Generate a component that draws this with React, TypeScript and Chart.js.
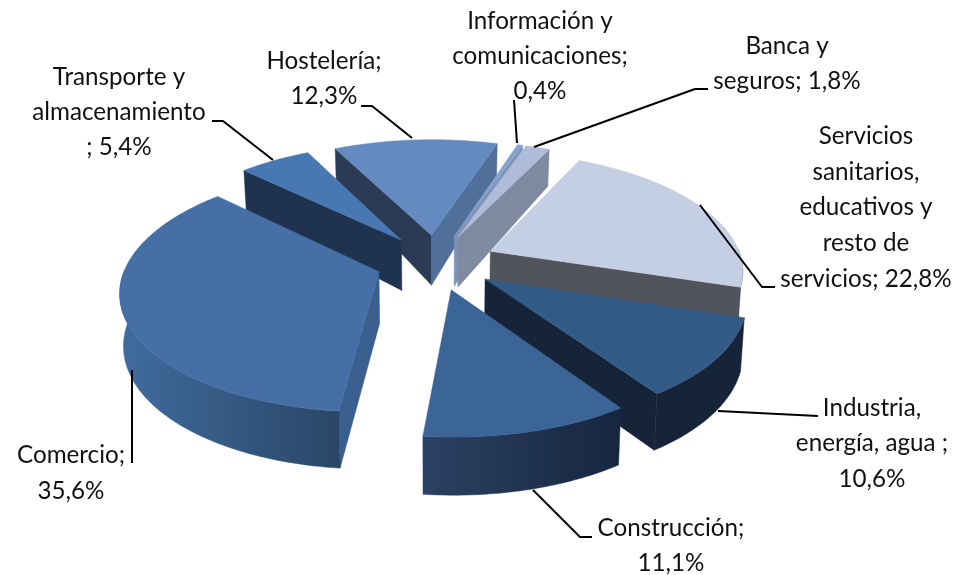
import React, { useEffect, useRef } from "react";
import { Chart, registerables } from "chart.js";

Chart.register(...registerables);

const categories = [
  "Comercio", "Transporte y almacenamiento", "Hostelería", "Información y comunicaciones",
  "Banca y seguros", "Servicios sanitarios, educativos y resto de servicios",
  "Industria, energía, agua", "Construcción",
];
const shares = [35.6, 5.4, 12.3, 0.4, 1.8, 22.8, 10.6, 11.1];

const topColors = ["#466fa5", "#4878b2", "#648abf", "#88a3cc", "#aebcd9", "#c5cfe3", "#345a86", "#3c6597"];
const startWallColors = ["#3a5f8f", "#1f3350", "#2b3a55", "#7f93b6", "#7a8cb0", "#52545c", "#16243a", "#2a3f60"];
const endWallColors = ["#3a5f8f", "#1f3350", "#506f9b", "#7f93b6", "#7f8aa0", "#52545c", "#16243a", "#2a3f60"];
const outerLeftColors = ["#406c9e", "#1f3350", "#2b3a55", "#7f93b6", "#7f8aa0", "#52545c", "#16243a", "#2c4163"];
const outerRightColors = ["#2a4666", "#1f3350", "#506f9b", "#7f93b6", "#7f8aa0", "#52545c", "#16243a", "#15263f"];

const labelLines = [
  ["Comercio;", "35,6%"],
  ["Transporte y", "almacenamiento", "; 5,4%"],
  ["Hostelería;", "12,3%"],
  ["Información y", "comunicaciones;", "0,4%"],
  ["Banca y", "seguros; 1,8%"],
  ["Servicios", "sanitarios,", "educativos y", "resto de", "servicios; 22,8%"],
  ["Industria,", "energía, agua ;", "10,6%"],
  ["Construcción;", "11,1%"],
];
const labelCentres = [71, 119, 324, 540, 787, 866, 872, 671];
const labelFirstLine = [455, 77, 61, 21, 46, 136, 408, 528];
const labelStep = [36, 35, 35, 35, 35, 35.8, 35.5, 35];
const leaders = [
  [[132, 370], [132, 463]],
  [[212, 121], [223, 121], [273, 160]],
  [[361, 106], [372, 106], [412, 138]],
  [[514, 100], [517, 143]],
  [[534, 147], [695, 89], [708, 89]],
  [[700, 205], [762, 287], [775, 287]],
  [[718, 411], [818, 416]],
  [[533, 490], [580, 537], [592, 537]],
];

const FONT = '24.2px Lato, "Open Sans", sans-serif';

// Tilted-plane projection of the pie's own geometry.
const PERSPECTIVE = 1725;
const TILT = 0.463;
function project(cx: number, cy: number, X: number, Y: number) {
  const s = PERSPECTIVE / (PERSPECTIVE - Y);
  return { x: cx + X * s, y: cy + Y * TILT * s };
}
function dropped(cx: number, p: { x: number; y: number }) {
  const d = p.y < 235 ? 50 + (p.y - 235) * 0.156 : 50 + (p.y - 235) * 0.04;
  return { x: cx + (p.x - cx) * 0.988, y: p.y + d };
}
function fillPoly(ctx: CanvasRenderingContext2D, pts: { x: number; y: number }[], fill: any) {
  ctx.beginPath();
  pts.forEach((p, i) => (i ? ctx.lineTo(p.x, p.y) : ctx.moveTo(p.x, p.y)));
  ctx.closePath();
  ctx.fillStyle = fill;
  ctx.strokeStyle = fill;
  ctx.lineWidth = 0.5;
  ctx.fill();
  ctx.stroke();
}

const pie3d = {
  id: "pie3d",
  beforeDatasetDraw(chart: any, args: any) {
    const ctx: CanvasRenderingContext2D = chart.ctx;
    const arcs: any[] = args.meta.data;
    const order = arcs
      .map((arc, i) => ({ arc, i, mid: (arc.startAngle + arc.endAngle) / 2 }))
      .sort((a, b) => Math.sin(a.mid) - Math.sin(b.mid));
    ctx.save();
    for (const { arc, i, mid } of order) {
      const { x: cx, y: cy, startAngle, endAngle, outerRadius: R } = arc;
      const E = arc.options.offset;
      const ox = Math.cos(mid) * E;
      const oy = Math.sin(mid) * E;
      const pt = (a: number, r: number) => project(cx, cy, ox + Math.cos(a) * r, oy + Math.sin(a) * r);
      const apex = pt(mid, 0);
      const steps = Math.max(4, Math.ceil((endAngle - startAngle) / 0.015));
      const angles: number[] = [];
      for (let k = 0; k <= steps; k++) angles.push(startAngle + ((endAngle - startAngle) * k) / steps);

      const wall = (a: number, color: string) => {
        const p = pt(a, R);
        fillPoly(ctx, [apex, p, dropped(cx, p), dropped(cx, apex)], color);
      };
      if (-Math.cos(startAngle) > 0) wall(startAngle, startWallColors[i]);
      if (Math.cos(endAngle) > 0) wall(endAngle, endWallColors[i]);

      const front = angles.filter((a) => Math.sin(a) > -0.02);
      if (front.length > 1) {
        const rim = front.map((a) => pt(a, R));
        const low = rim.map((p) => dropped(cx, p));
        const xs = rim.map((p) => p.x);
        const g = ctx.createLinearGradient(Math.min(...xs), 0, Math.max(...xs), 0);
        g.addColorStop(0, outerLeftColors[i]);
        g.addColorStop(1, outerRightColors[i]);
        fillPoly(ctx, [...rim, ...low.reverse()], g);
      }
      fillPoly(ctx, [apex, ...angles.map((a) => pt(a, R))], topColors[i]);
    }
    ctx.restore();
    return false;
  },
  afterDraw(chart: any) {
    const ctx: CanvasRenderingContext2D = chart.ctx;
    ctx.save();
    ctx.strokeStyle = "#000";
    ctx.lineWidth = 2;
    ctx.lineJoin = "round";
    leaders.forEach((path) => {
      ctx.beginPath();
      path.forEach(([x, y], i) => (i ? ctx.lineTo(x, y) : ctx.moveTo(x, y)));
      ctx.stroke();
    });
    ctx.fillStyle = "#111";
    ctx.font = FONT;
    ctx.textAlign = "center";
    ctx.textBaseline = "middle";
    labelLines.forEach((lines, i) => {
      lines.forEach((t, k) => ctx.fillText(t, labelCentres[i], labelFirstLine[i] + k * labelStep[i]));
    });
    ctx.restore();
  },
};

export default function App() {
  const ref = useRef<HTMLCanvasElement>(null);
  useEffect(() => {
    const chart = new Chart(ref.current!, {
      type: "pie",
      data: {
        labels: categories,
        datasets: [{ data: shares, backgroundColor: topColors, borderWidth: 0, offset: 60 } as any],
      },
      options: {
        responsive: false,
        animation: false,
        rotation: 185.8,
        radius: 252,
        layout: { padding: { right: 95, bottom: 51 } },
        plugins: { legend: { display: false }, tooltip: { enabled: false } },
      } as any,
      plugins: [pie3d as any],
    });
    return () => chart.destroy();
  }, []);
  return (
    <div style={{ position: "fixed", left: 0, top: 0, width: 967, height: 575, background: "#fff" }}>
      <canvas ref={ref} width={967} height={575} style={{ display: "block" }} />
    </div>
  );
}
